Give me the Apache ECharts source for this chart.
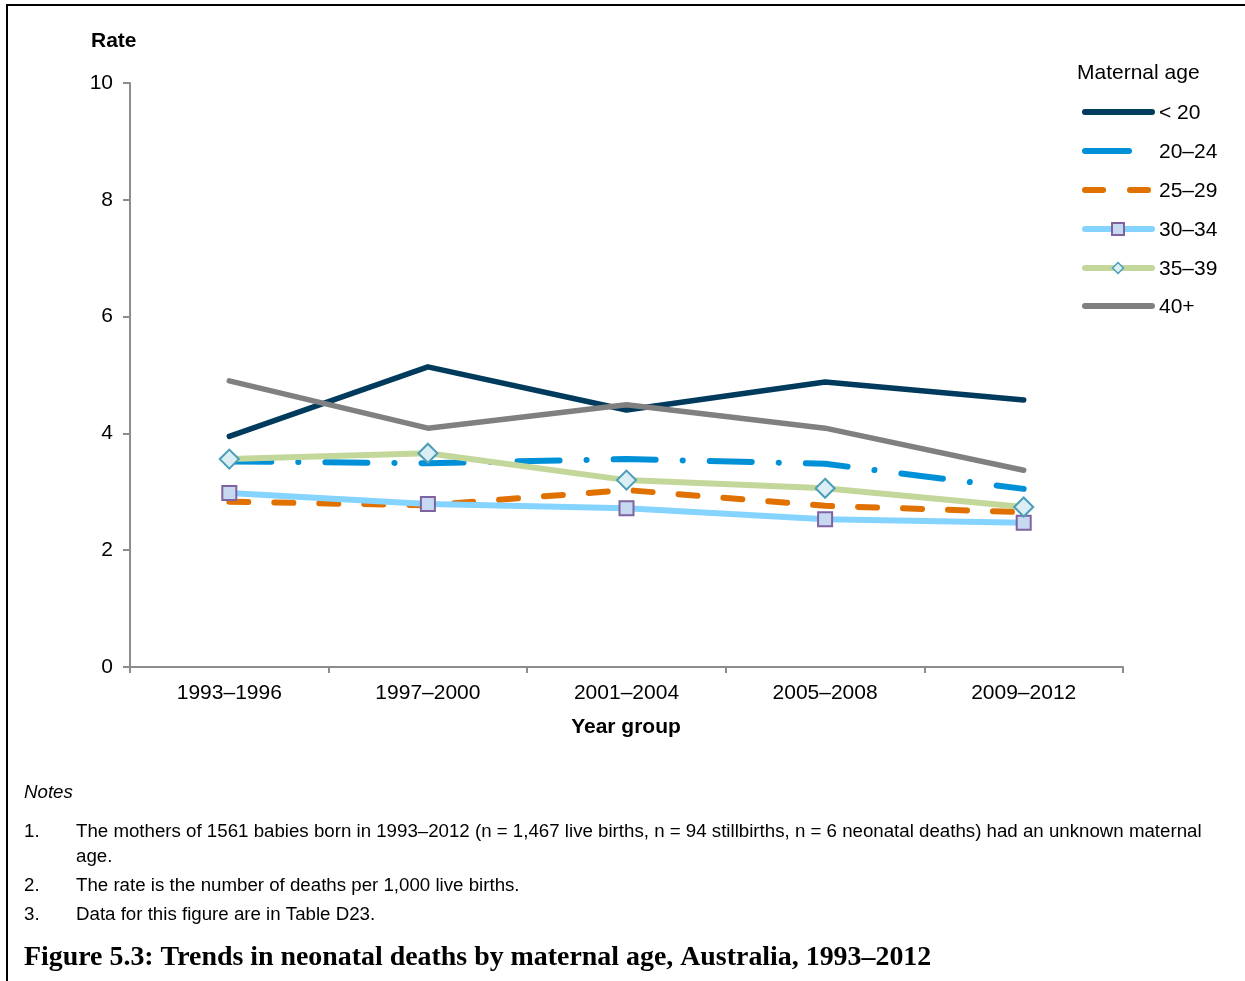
<!DOCTYPE html>
<html>
<head>
<meta charset="utf-8">
<script src="https://cdn.jsdelivr.net/npm/echarts@6/dist/echarts.min.js"></script>
<style>
html,body{margin:0;padding:0;background:#fff;}
#chart{width:1245px;height:981px;}
</style>
</head>
<body>
<div id="chart"></div>
<script>
var categories = ['1993–1996', '1997–2000', '2001–2004', '2005–2008', '2009–2012'];
var seriesNames = ['< 20', '20–24', '25–29', '30–34', '35–39', '40+'];
var under20 = [3.95, 5.14, 4.40, 4.88, 4.57];
var age20to24 = [3.52, 3.49, 3.56, 3.48, 3.05];
var age25to29 = [2.83, 2.77, 3.03, 2.76, 2.65];
var age30to34 = [2.98, 2.79, 2.72, 2.53, 2.47];
var age35to39 = [3.56, 3.66, 3.20, 3.06, 2.74];
var age40plus = [4.90, 4.09, 4.49, 4.09, 3.37];
var yTicks = [0, 2, 4, 6, 8, 10];
var notes = [
  ['1.', 'The mothers of 1561 babies born in 1993–2012 (n = 1,467 live births, n = 94 stillbirths, n = 6 neonatal deaths) had an unknown maternal'],
  ['', 'age.'],
  ['2.', 'The rate is the number of deaths per 1,000 live births.'],
  ['3.', 'Data for this figure are in Table D23.']
];
var figTitle = 'Figure 5.3: Trends in neonatal deaths by maternal age, Australia, 1993–2012';

var FONT = 'Liberation Sans, Arial, sans-serif';
var FS = 21;
var colors = ['#003a5c', '#0090d8', '#e07000', '#85d3ff', '#c4d79b', '#808080'];
var chart = echarts.init(document.getElementById('chart'));

function lineSeries(name, data, color, width, type, extra) {
  var s = {
    name: name, type: 'line', data: data,
    symbol: 'none', showSymbol: false,
    lineStyle: { color: color, width: width, type: type || 'solid', cap: 'round', join: 'round' },
    itemStyle: { color: color },
    emphasis: { disabled: true },
    animation: false
  };
  if (extra) { for (var k in extra) s[k] = extra[k]; }
  return s;
}

var g = [];
// frame
g.push({ type: 'line', shape: { x1: 6, y1: 5, x2: 1245, y2: 5 }, style: { stroke: '#000', lineWidth: 2 } });
g.push({ type: 'line', shape: { x1: 7, y1: 4, x2: 7, y2: 981 }, style: { stroke: '#000', lineWidth: 2 } });
// axis titles
g.push({ type: 'text', x: 91, y: 41, style: { text: 'Rate', font: 'bold ' + FS + 'px ' + FONT, fill: '#000', verticalAlign: 'middle' } });
g.push({ type: 'text', x: 626, y: 727, style: { text: 'Year group', font: 'bold ' + FS + 'px ' + FONT, fill: '#000', align: 'center', verticalAlign: 'middle' } });
// legend
g.push({ type: 'text', x: 1077, y: 73, style: { text: 'Maternal age', font: FS + 'px ' + FONT, fill: '#000', verticalAlign: 'middle' } });
var legY = [112, 151, 190, 229, 268, 306];
function legLine(x1, x2, y, color) {
  return { type: 'line', shape: { x1: x1, y1: y, x2: x2, y2: y }, style: { stroke: color, lineWidth: 6, lineCap: 'round' } };
}
g.push(legLine(1085, 1152, legY[0], colors[0]));
g.push(legLine(1085, 1129, legY[1], colors[1]));
g.push(legLine(1085, 1103, legY[2], colors[2]));
g.push(legLine(1130, 1148, legY[2], colors[2]));
g.push(legLine(1085, 1152, legY[3], colors[3]));
g.push({ type: 'rect', shape: { x: 1112, y: legY[3] - 6, width: 12, height: 12 }, style: { fill: '#c6d9f0', stroke: '#7f62a0', lineWidth: 2 } });
g.push(legLine(1085, 1152, legY[4], colors[4]));
g.push({ type: 'polygon', shape: { points: [[1118, legY[4] - 5.5], [1123.5, legY[4]], [1118, legY[4] + 5.5], [1112.5, legY[4]]] }, style: { fill: '#daeef3', stroke: '#4a9db8', lineWidth: 1.5 } });
g.push(legLine(1085, 1152, legY[5], colors[5]));
seriesNames.forEach(function (n, i) {
  g.push({ type: 'text', x: 1159, y: legY[i] + 1, style: { text: n, font: FS + 'px ' + FONT, fill: '#000', verticalAlign: 'middle' } });
});
// notes
var NF = '18.7px ' + FONT;
g.push({ type: 'text', x: 24, y: 793, style: { text: 'Notes', font: 'italic ' + NF, fill: '#000', verticalAlign: 'middle' } });
var noteY = [832, 857, 886, 915];
notes.forEach(function (n, i) {
  if (n[0]) g.push({ type: 'text', x: 24, y: noteY[i], style: { text: n[0], font: NF, fill: '#000', verticalAlign: 'middle' } });
  g.push({ type: 'text', x: 76, y: noteY[i], style: { text: n[1], font: NF, fill: '#000', verticalAlign: 'middle' } });
});
g.push({ type: 'text', x: 24, y: 958, style: { text: figTitle, font: 'bold 27.9px Liberation Serif, Times New Roman, serif', fill: '#000', verticalAlign: 'middle' } });

var option = {
  backgroundColor: '#fff',
  animation: false,
  grid: { left: 130, right: 122, top: 83, bottom: 314, containLabel: false },
  xAxis: {
    type: 'category', data: categories, boundaryGap: true,
    axisLine: { lineStyle: { color: '#8c8c8c', width: 2 } },
    axisTick: { show: true, length: 6, lineStyle: { color: '#8c8c8c', width: 2 } },
    axisLabel: { color: '#000', fontSize: FS, fontFamily: FONT, margin: 16 },
    splitLine: { show: false }
  },
  yAxis: {
    type: 'value', min: 0, max: 10, interval: 2,
    axisLine: { show: true, lineStyle: { color: '#8c8c8c', width: 2 } },
    axisTick: { show: true, inside: false, length: 7, lineStyle: { color: '#8c8c8c', width: 2 } },
    axisLabel: { color: '#000', fontSize: FS, fontFamily: FONT, margin: 17,
      formatter: function (v) { return yTicks.indexOf(v) >= 0 ? String(v) : ''; } },
    splitLine: { show: false }
  },
  series: [
    lineSeries(seriesNames[0], under20, colors[0], 5.5),
    lineSeries(seriesNames[1], age20to24, colors[1], 6, [42, 27, 0.1, 27]),
    lineSeries(seriesNames[2], age25to29, colors[2], 6, [19, 26]),
    lineSeries(seriesNames[3], age30to34, colors[3], 6, 'solid', {
      symbol: 'rect', symbolSize: 14, showSymbol: true,
      itemStyle: { color: '#c6d9f0', borderColor: '#7f62a0', borderWidth: 2 }
    }),
    lineSeries(seriesNames[4], age35to39, colors[4], 6, 'solid', {
      symbol: 'diamond', symbolSize: 19, showSymbol: true,
      itemStyle: { color: '#daeef3', borderColor: '#4a9db8', borderWidth: 2 }
    }),
    lineSeries(seriesNames[5], age40plus, colors[5], 5.5)
  ],
  graphic: g
};
chart.setOption(option);
</script>
</body>
</html>
